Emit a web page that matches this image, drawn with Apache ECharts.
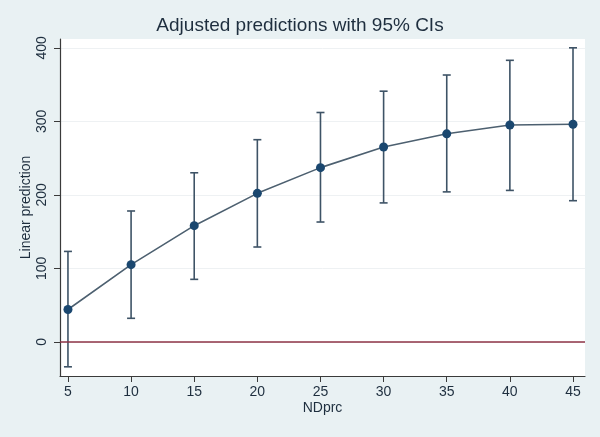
<!DOCTYPE html>
<html>
<head>
<meta charset="utf-8">
<script src="https://cdn.jsdelivr.net/npm/echarts@6/dist/echarts.min.js"></script>
<style>
html,body{margin:0;padding:0;background:#e9f1f3;}
#chart{width:600px;height:437px;}
</style>
</head>
<body>
<div id="chart"></div>
<script>
const xValues = [5, 10, 15, 20, 25, 30, 35, 40, 45];
const predictions = [44, 105, 158, 202, 237, 265, 283, 295, 296];
const upperCI = [123, 178, 230, 275, 312, 341, 363, 383, 400];
const lowerCI = [-34, 32, 85, 129, 163, 189, 204, 206, 192];
const xTicks = [5, 10, 15, 20, 25, 30, 35, 40, 45];
const yTicks = [0, 100, 200, 300, 400];

const font = 'Liberation Sans, Arial, sans-serif';
const chart = echarts.init(document.getElementById('chart'));

const ciData = xValues.map((x, i) => [x, lowerCI[i], upperCI[i]]);
const lineData = xValues.map((x, i) => [x, predictions[i]]);

chart.setOption({
  backgroundColor: '#e9f1f3',
  animation: false,
  title: {
    text: 'Adjusted predictions with 95% CIs',
    left: 'center',
    top: 11,
    textStyle: { fontFamily: font, fontSize: 19, fontWeight: 'normal', color: '#1e2e3e' }
  },
  grid: {
    left: 60, right: 15, top: 39, bottom: 61,
    show: true, backgroundColor: '#ffffff', borderWidth: 0
  },
  xAxis: {
    type: 'value',
    min: 4.37, max: 45.95,
    name: 'NDprc',
    nameLocation: 'middle',
    nameGap: 25,
    nameMoveOverlap: false,
    nameTextStyle: { fontFamily: font, fontSize: 14, color: '#1e2e3e', verticalAlign: 'top' },
    axisLine: { show: true, onZero: false, lineStyle: { color: '#3a3a3a', width: 1.2 } },
    axisTick: { show: true, length: 6, customValues: xTicks, lineStyle: { color: '#3a3a3a' } },
    axisLabel: { customValues: xTicks, margin: 9, fontFamily: font, fontSize: 14, color: '#1e2e3e' },
    splitLine: { show: false }
  },
  yAxis: {
    type: 'value',
    min: -46.5, max: 412,
    name: 'Linear prediction',
    nameLocation: 'middle',
    nameRotate: 90,
    nameGap: 27,
    nameMoveOverlap: false,
    nameTextStyle: { fontFamily: font, fontSize: 14, color: '#1e2e3e' },
    axisLine: { show: true, onZero: false, lineStyle: { color: '#3a3a3a', width: 1.2 } },
    axisTick: { show: true, length: 6, customValues: yTicks, lineStyle: { color: '#3a3a3a' } },
    axisLabel: { customValues: yTicks, rotate: 90, margin: 11, fontFamily: font, fontSize: 14, color: '#1e2e3e' },
    splitLine: { show: true, lineStyle: { color: '#eef1f3', width: 1 } }
  },
  series: [
    {
      type: 'custom',
      name: 'CI',
      data: ciData,
      z: 2,
      renderItem: function (params, api) {
        const x = api.value(0);
        const lo = api.coord([x, api.value(1)]);
        const hi = api.coord([x, api.value(2)]);
        const hw = 4;
        const style = { stroke: '#3e5366', lineWidth: 1.6 };
        return {
          type: 'group',
          children: [
            { type: 'line', shape: { x1: lo[0], y1: lo[1], x2: hi[0], y2: hi[1] }, style: style },
            { type: 'line', shape: { x1: lo[0] - hw, y1: lo[1], x2: lo[0] + hw, y2: lo[1] }, style: style },
            { type: 'line', shape: { x1: hi[0] - hw, y1: hi[1], x2: hi[0] + hw, y2: hi[1] }, style: style }
          ]
        };
      }
    },
    {
      type: 'line',
      name: 'Prediction',
      data: lineData,
      z: 3,
      symbol: 'circle',
      symbolSize: 9,
      itemStyle: { color: '#1a476f' },
      lineStyle: { color: '#4d6070', width: 1.6 },
      markLine: {
        silent: true,
        symbol: 'none',
        label: { show: false },
        lineStyle: { color: '#8e3346', width: 1.6, type: 'solid' },
        data: [{ yAxis: 0 }]
      }
    }
  ]
});
</script>
</body>
</html>
